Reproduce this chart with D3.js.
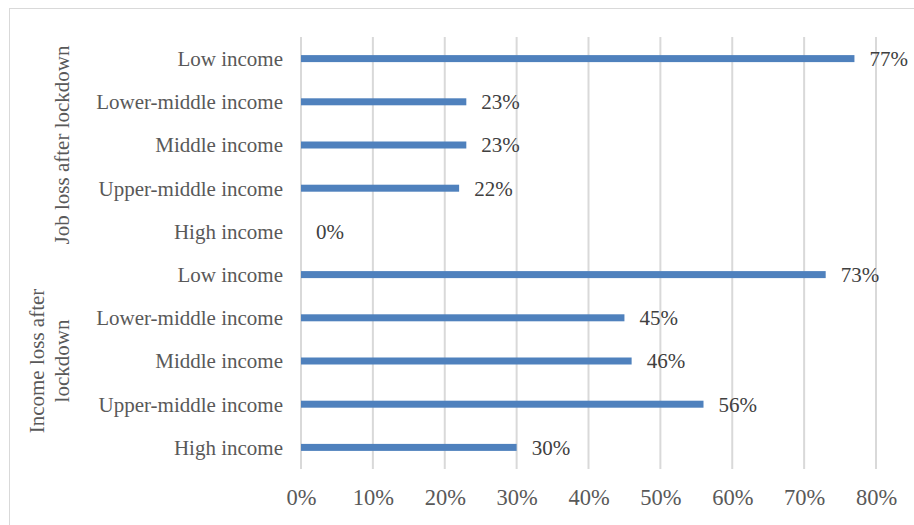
<!DOCTYPE html>
<html>
<head>
<meta charset="utf-8">
<script src="https://cdn.jsdelivr.net/npm/d3@7/dist/d3.min.js"></script>
<style>
  html, body { margin: 0; padding: 0; background: #ffffff; }
  svg { display: block; font-family: "Liberation Serif", "Times New Roman", serif; }
</style>
</head>
<body>
<svg id="chart" width="914" height="525"></svg>
<script>
// Income groups, listed top to bottom within each block
const categories = ["Low income", "Lower-middle income", "Middle income", "Upper-middle income", "High income"];
// Block titles (multi-line titles are split into lines)
const groups = [["Job loss after lockdown"], ["Income loss after", "lockdown"]];
// Share of respondents, per block
const jobLoss = [0.77, 0.23, 0.23, 0.22, 0.00];
const incomeLoss = [0.73, 0.45, 0.46, 0.56, 0.30];
// Horizontal axis ticks
const ticks = [0, 0.1, 0.2, 0.3, 0.4, 0.5, 0.6, 0.7, 0.8];

const rows = [];
[jobLoss, incomeLoss].forEach((vals, g) => {
  vals.forEach((v, i) => rows.push({ key: g + "-" + i, group: g, cat: categories[i], value: v }));
});

const W = 914, H = 525;
const margin = { top: 37, right: 38, bottom: 56, left: 301 };
const svg = d3.select("#chart");

// outer frame
svg.append("rect")
  .attr("x", 9.5).attr("y", 8.5)
  .attr("width", W + 20).attr("height", H + 20)
  .attr("fill", "none").attr("stroke", "#d9d9d9").attr("stroke-width", 1);

const x = d3.scaleLinear().domain([0, 0.8]).range([margin.left, W - margin.right]);
const y = d3.scaleBand().domain(rows.map(d => d.key))
  .range([margin.top, H - margin.bottom]).paddingInner(0).paddingOuter(0);

// vertical gridlines
svg.append("g").selectAll("line").data(ticks).join("line")
  .attr("x1", d => x(d)).attr("x2", d => x(d))
  .attr("y1", margin.top).attr("y2", H - margin.bottom)
  .attr("stroke", "#d9d9d9").attr("stroke-width", 2);

// x axis tick labels
const xAxis = d3.axisBottom(x).tickValues(ticks).tickFormat(d3.format(".0%")).tickSize(0).tickPadding(0);
const gx = svg.append("g").attr("transform", `translate(0,${H - margin.bottom})`).call(xAxis);
gx.select(".domain").remove();
gx.selectAll("text")
  .attr("y", 36).attr("dy", 0)
  .attr("fill", "#595959")
  .style("font-family", "Liberation Serif, Times New Roman, serif")
  .style("font-size", "22.5px");

// bars
const barH = 7;
svg.append("g").selectAll("rect").data(rows).join("rect")
  .attr("x", x(0))
  .attr("y", d => y(d.key) + y.bandwidth() / 2 - barH / 2)
  .attr("width", d => x(d.value) - x(0))
  .attr("height", barH)
  .attr("fill", "#4f81bd");

// value labels
svg.append("g").selectAll("text").data(rows).join("text")
  .attr("x", d => x(d.value) + 15)
  .attr("y", d => y(d.key) + y.bandwidth() / 2)
  .attr("dy", "0.35em")
  .attr("fill", "#404040")
  .style("font-size", "21px")
  .text(d => d3.format(".0%")(d.value));

// category labels
svg.append("g").selectAll("text").data(rows).join("text")
  .attr("x", 283)
  .attr("y", d => y(d.key) + y.bandwidth() / 2)
  .attr("dy", "0.35em")
  .attr("text-anchor", "end")
  .attr("fill", "#595959")
  .style("font-size", "21px")
  .text(d => d.cat);

// rotated block titles
groups.forEach((lines, g) => {
  const keys = rows.filter(r => r.group === g).map(r => r.key);
  const top = y(keys[0]);
  const bottom = y(keys[keys.length - 1]) + y.bandwidth();
  const cy = (top + bottom) / 2;
  const lineH = 25;
  const lastX = 62;
  lines.forEach((ln, j) => {
    const cx = lastX - (lines.length - 1 - j) * lineH;
    svg.append("text")
      .attr("transform", `translate(${cx},${cy}) rotate(-90)`)
      .attr("text-anchor", "middle")
      .attr("dy", "0.35em")
      .attr("fill", "#595959")
      .style("font-size", "21px")
      .text(ln);
  });
});
</script>
</body>
</html>
